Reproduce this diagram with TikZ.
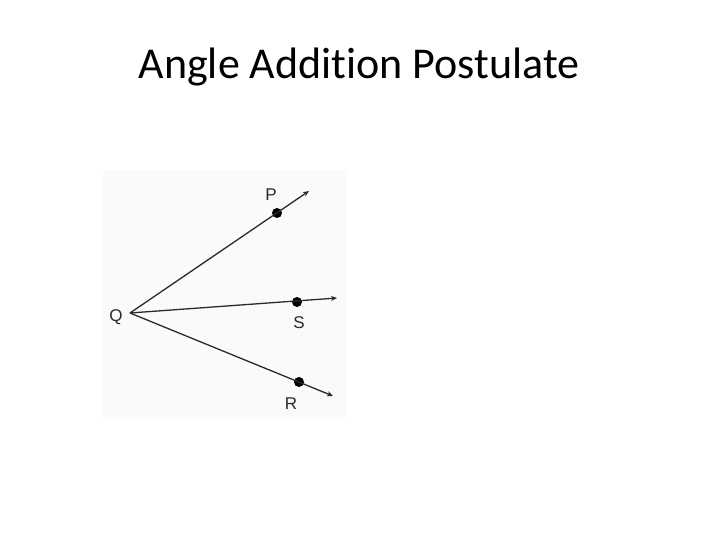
\documentclass[tikz,border=0pt]{standalone}
\usepackage{fontspec}
\setmainfont[Ligatures=NoCommon]{Carlito}
\newfontfamily\labfont{Liberation Sans}
\usetikzlibrary{arrows.meta}
\definecolor{ink}{HTML}{2A2A2A}
\definecolor{panel}{HTML}{FAFAFA}
\begin{document}
\begin{tikzpicture}[x=1pt,y=-1pt,
  ray/.style={draw=ink,line width=1.3pt,-{Stealth[length=6pt,width=5pt]}},
  dot/.style={circle,fill=black,inner sep=0pt,minimum size=10pt},
  lab/.style={font=\labfont\fontsize{17}{17}\selectfont,text=ink,inner sep=0pt}]
\useasboundingbox (0,0) rectangle (720,540);
\fill[white] (0,0) rectangle (720,540);
\fill[panel] (103,170) rectangle (347,417);
\node[font=\fontsize{44}{44}\selectfont,anchor=base,inner sep=0pt] (title) at (359,79) {Angle Addition Postulate};
\coordinate (Q) at (130,313);
\coordinate (Pt) at (309,191);
\coordinate (St) at (337,298);
\coordinate (Rt) at (333,396);
\node[dot] (P) at (277,213) {};
\node[dot] (S) at (297,302) {};
\node[dot] (R) at (299,382) {};
\draw[ray] (Q) -- (Pt);
\draw[ray] (Q) -- (St);
\draw[ray] (Q) -- (Rt);
\node[lab] (lP) at (271,195) {P};
\node[lab] (lS) at (299,323) {S};
\node[lab] (lR) at (291,404) {R};
\node[lab] (lQ) at (116,317) {Q};
\end{tikzpicture}
\end{document}
